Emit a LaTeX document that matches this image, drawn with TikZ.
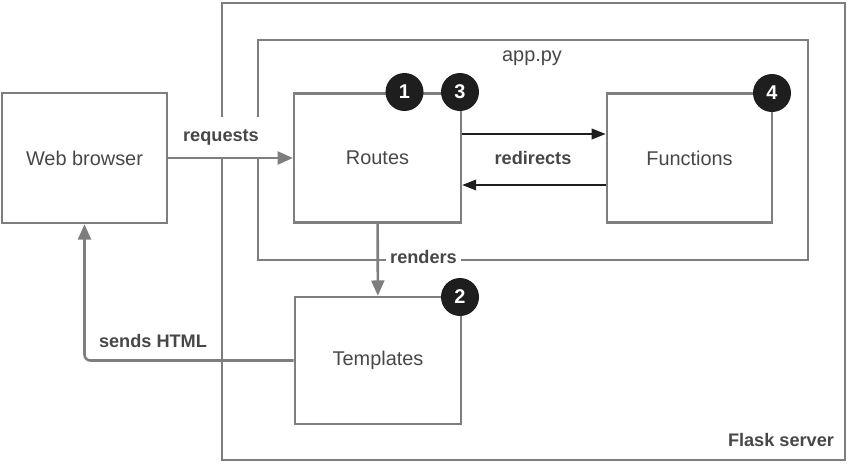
\documentclass[tikz,border=0pt]{standalone}
\usepackage{fontspec}
\setmainfont{Liberation Sans}
\usetikzlibrary{arrows.meta}
\definecolor{linegray}{HTML}{7E7E7E}
\definecolor{textgray}{HTML}{474747}
\definecolor{badgeblack}{HTML}{1E1E1E}
\begin{document}
\begin{tikzpicture}[x=0.03cm,y=-0.03cm,
    box/.style={draw=linegray,line width=2.2pt,text=textgray,font=\fontsize{17}{20}\selectfont},
    frame/.style={draw=linegray,line width=2.2pt},
    badge/.style={circle,fill=badgeblack,text=white,minimum size=1.14cm,inner sep=0pt,font=\fontsize{17}{20}\selectfont\bfseries},
    lbl/.style={text=textgray,font=\fontsize{15.5}{18}\selectfont\bfseries},
    flow/.style={linegray,line width=2.2pt,-{Triangle[length=13pt,width=11pt]}},
    jump/.style={badgeblack,line width=1.6pt,-{Triangle[length=12pt,width=9pt]}}]
    \useasboundingbox (0,0) rectangle (850,463);

    % server and app.py
    \draw node at (533.5,231.5)[name=flask,frame,minimum width=18.69cm,minimum height=13.71cm]{};
    \draw node at (533,150)[name=app,frame,minimum width=16.5cm,minimum height=6.6cm]{};
    \draw node at (532,58)[name=appT,text=textgray,font=\fontsize{17}{20}\selectfont]{app.py};
    \draw node at (781,440)[name=flaskT,lbl]{Flask server};

    \draw node at (84.5,158)[name=browser,box,minimum width=4.95cm,minimum height=3.9cm]{Web browser};
    \draw node at (377.5,158)[name=routes,box,minimum width=5cm,minimum height=3.87cm]{Routes};
    \draw node at (689.5,158)[name=functions,box,minimum width=4.95cm,minimum height=3.87cm]{Functions};
    \draw node at (378,360.5)[name=templates,box,minimum width=4.98cm,minimum height=3.81cm]{Templates};

    % labels that cut the frames
    \draw node at (221,137)[name=requestsT,lbl,fill=white,inner xsep=2pt,inner ysep=10pt]{requests};
    \draw node at (423.5,257)[name=rendersT,lbl,fill=white,inner xsep=3.5pt,inner ysep=3pt]{renders};
    \draw node at (533,158)[name=redirectsT,lbl]{redirects};
    \draw node at (153,341)[name=sendsT,lbl]{sends HTML};

    \draw[flow](browser) -- (routes);
    \draw[flow](routes) -- (templates);
    \draw[flow,rounded corners=5pt](templates.west) -| (browser.south);
    \draw[jump]([yshift=0.72cm]routes.east) -- ([yshift=0.72cm]functions.west);
    \draw[jump]([yshift=-0.81cm]functions.west) -- ([yshift=-0.81cm]routes.east);

    % step numbers
    \draw node at (404.5,92)[name=one,badge]{1};
    \draw node at (460,92)[name=three,badge]{3};
    \draw node at (772,93)[name=four,badge]{4};
    \draw node at (460,297)[name=two,badge]{2};
\end{tikzpicture}
\end{document}
